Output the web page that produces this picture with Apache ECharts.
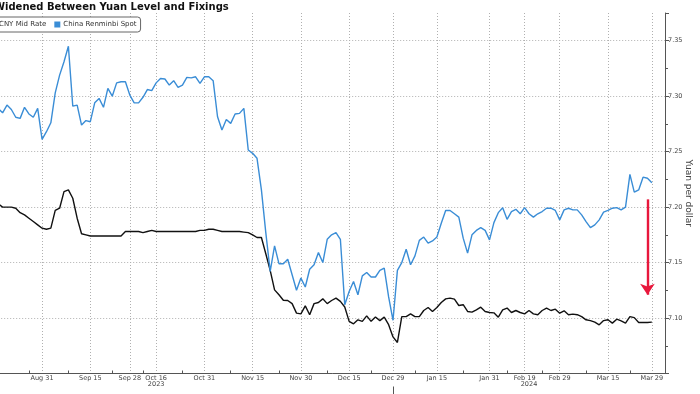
<!DOCTYPE html>
<html>
<head>
<meta charset="utf-8">
<script src="https://cdn.jsdelivr.net/npm/echarts@6/dist/echarts.min.js"></script>
<style>
html,body{margin:0;padding:0;background:#fff;}
#chart{width:700px;height:394px;}
</style>
</head>
<body>
<div id="chart"></div>
<script>
// Trading days (China onshore) per month; April days are empty padding at the right edge
const tradingDays = [
  ['2023-08', [17,18,21,22,23,24,25,28,29,30,31]],
  ['2023-09', [1,4,5,6,7,8,11,12,13,14,15,18,19,20,21,22,25,26,27,28]],
  ['2023-10', [9,10,11,12,13,16,17,18,19,20,23,24,25,26,27,30,31]],
  ['2023-11', [1,2,3,6,7,8,9,10,13,14,15,16,17,20,21,22,23,24,27,28,29,30]],
  ['2023-12', [1,4,5,6,7,8,11,12,13,14,15,18,19,20,21,22,25,26,27,28,29]],
  ['2024-01', [2,3,4,5,8,9,10,11,12,15,16,17,18,19,22,23,24,25,26,29,30,31]],
  ['2024-02', [1,2,5,6,7,8,9,19,20,21,22,23,26,27,28,29]],
  ['2024-03', [1,4,5,6,7,8,11,12,13,14,15,18,19,20,21,22,25,26,27,28,29]],
  ['2024-04', [1,2,3]]
];
const dates = [];
tradingDays.forEach(([m, days]) => days.forEach(d => dates.push(m + '-' + String(d).padStart(2, '0'))));

const labelDates = ['2023-08-31','2023-09-15','2023-09-28','2023-10-16','2023-10-31','2023-11-15','2023-11-30',
  '2023-12-15','2023-12-29','2024-01-15','2024-01-31','2024-02-19','2024-02-29','2024-03-15','2024-03-29'];
const yearLabels = [['2023-10-16', '2023'], ['2024-02-20', '2024']];
const yearSeparator = '2023-12-29';
const yTicks = [7.10, 7.15, 7.20, 7.25, 7.30, 7.35];

// CNY Mid Rate (fixing)
const midRate = [
  7.203,7.200,7.200,7.200,7.199,7.195,7.193,7.190,7.187,7.184,
  7.181,7.180,7.181,7.197,7.199,7.214,7.2155,7.208,7.190,7.176,
  7.175,7.174,7.174,7.174,7.174,7.174,7.174,7.174,7.174,7.178,
  7.178,7.178,7.178,7.177,7.178,7.179,7.178,7.178,7.178,7.178,
  7.178,7.178,7.178,7.178,7.178,7.178,7.179,7.179,7.180,7.180,
  7.179,7.178,7.178,7.178,7.178,7.178,7.1775,7.177,7.175,7.1726,
  7.1726,7.158,7.143,7.1254,7.121,7.116,7.1158,7.113,7.1044,7.1038,
  7.111,7.103,7.113,7.114,7.1173,7.113,7.1158,7.118,7.115,7.110,
  7.097,7.0948,7.0984,7.097,7.102,7.097,7.101,7.0977,7.1008,7.094,
  7.083,7.078,7.1013,7.1013,7.1038,7.1013,7.1013,7.1068,7.1095,7.1059,
  7.1095,7.114,7.1173,7.118,7.117,7.1113,7.112,7.1059,7.1053,7.1074,
  7.1098,7.1059,7.105,7.1047,7.1008,7.1074,7.109,7.105,7.1068,7.105,
  7.1038,7.1068,7.1038,7.103,7.1068,7.109,7.1068,7.108,7.1044,7.1065,
  7.103,7.1035,7.103,7.1013,7.0984,7.0977,7.0963,7.0939,7.0977,7.0984,
  7.0954,7.099,7.0975,7.0954,7.1013,7.1004,7.096,7.096,7.096,7.0963,
  null,null,null
];

// China Renminbi Spot
const spot = [
  7.289,7.285,7.292,7.288,7.281,7.280,7.290,7.284,7.281,7.289,
  7.261,7.268,7.276,7.303,7.319,7.331,7.345,7.291,7.292,7.274,
  7.278,7.277,7.294,7.298,7.290,7.307,7.300,7.312,7.313,7.313,
  7.301,7.294,7.294,7.299,7.306,7.305,7.312,7.316,7.3155,7.310,
  7.314,7.308,7.310,7.317,7.3165,7.3175,7.3115,7.3175,7.3175,7.314,
  7.2815,7.2695,7.279,7.2755,7.284,7.2845,7.289,7.2515,7.2485,7.244,
  7.2155,7.177,7.142,7.165,7.149,7.149,7.153,7.139,7.125,7.136,
  7.128,7.144,7.148,7.159,7.150,7.171,7.175,7.177,7.171,7.112,
  7.124,7.133,7.121,7.138,7.141,7.137,7.137,7.143,7.145,7.119,
  7.098,7.143,7.150,7.162,7.148,7.156,7.170,7.173,7.1675,7.1695,
  7.173,7.1855,7.197,7.197,7.194,7.191,7.172,7.1585,7.175,7.179,
  7.1815,7.179,7.1705,7.186,7.195,7.1995,7.189,7.196,7.198,7.194,
  7.1995,7.194,7.191,7.194,7.196,7.199,7.199,7.197,7.1885,7.1975,
  7.199,7.1975,7.1975,7.193,7.187,7.1815,7.184,7.1885,7.1955,7.197,
  7.199,7.1995,7.1975,7.200,7.2295,7.2135,7.2155,7.227,7.226,7.222,
  null,null,null
];

// Red arrow annotation (date, from value, to value)
const arrowDate = '2024-03-28';
const arrowFrom = 7.207;
const arrowTo = 7.121;

const MON = ['Jan','Feb','Mar','Apr','May','Jun','Jul','Aug','Sep','Oct','Nov','Dec'];
const fmtDate = s => MON[parseInt(s.slice(5,7),10)-1] + ' ' + parseInt(s.slice(8,10),10);

const labelIdx = new Set(labelDates.map(d => dates.indexOf(d)));
const labelArr = labelDates.map(d => dates.indexOf(d));
const tickIdx = new Set();
for (let k = 0; k < labelArr.length; k++) {
  const prev = k === 0 ? labelArr[0] - (labelArr[1] - labelArr[0]) * 0.6 : labelArr[k-1];
  tickIdx.add(Math.round((prev + labelArr[k]) / 2));
}
const yearMap = {};
yearLabels.forEach(([d, y]) => { yearMap[dates.indexOf(d)] = y; });
const sepIdx = dates.indexOf(yearSeparator);

const FONT = 'DejaVu Sans';
const AX = '#555';
const GRID = '#b0b0b0';

const chart = echarts.init(document.getElementById('chart'), null, {renderer: 'canvas'});
chart.setOption({
  animation: false,
  backgroundColor: '#fff',
  title: {
    text: 'Widened Between Yuan Level and Fixings',
    left: -6, top: 2, padding: 0,
    textStyle: {fontFamily: FONT, fontWeight: 'bold', fontSize: 10, color: '#111'}
  },
  legend: {
    left: -14, top: 17,
    padding: [4, 4],
    itemWidth: 6, itemHeight: 6, itemGap: 8,
    icon: 'rect',
    borderColor: '#666', borderWidth: 1, borderRadius: 3,
    backgroundColor: '#fff',
    textStyle: {fontFamily: FONT, fontSize: 7, color: '#333', padding: [0,0,0,-2]},
    data: ['CNY Mid Rate', 'China Renminbi Spot']
  },
  grid: {left: -1.8, right: 35, top: 13, bottom: 20.5, containLabel: false, outerBoundsMode: 'none'},
  xAxis: [
    {
      type: 'category', data: dates, boundaryGap: false,
      axisLine: {lineStyle: {color: AX, width: 1}},
      axisTick: {show: true, inside: true, length: 3, interval: (i) => tickIdx.has(i), lineStyle: {color: AX}},
      axisLabel: {interval: (i) => labelIdx.has(i), formatter: fmtDate, fontFamily: FONT, fontSize: 6.5, color: '#444', margin: 1},
      splitLine: {show: true, interval: (i) => labelIdx.has(i), lineStyle: {color: GRID, type: [1, 2], width: 1}}
    },
    {
      type: 'category', data: dates, boundaryGap: false, position: 'bottom', offset: 6,
      axisLine: {show: false}, axisTick: {show: false},
      axisLabel: {interval: (i) => yearMap[i] !== undefined, formatter: (v) => yearMap[dates.indexOf(v)] || '', fontFamily: FONT, fontSize: 6.5, color: '#444', margin: 1},
      splitLine: {show: false}
    },
    {
      type: 'category', data: dates, boundaryGap: false, position: 'bottom', offset: 13,
      axisLine: {show: false},
      axisTick: {show: true, length: 8, interval: (i) => i === sepIdx, lineStyle: {color: AX}},
      axisLabel: {show: false}, splitLine: {show: false}
    }
  ],
  yAxis: {
    type: 'value', position: 'right', min: 7.05, max: 7.375, interval: 0.05,
    axisLine: {show: true, lineStyle: {color: AX}},
    axisTick: {show: true, length: 4, lineStyle: {color: AX}},
    minorTick: {show: true, splitNumber: 2, length: 3, lineStyle: {color: AX}},
    axisLabel: {
      formatter: v => yTicks.some(t => Math.abs(t - v) < 1e-6) ? v.toFixed(2) : '',
      fontFamily: FONT, fontSize: 6.5, color: '#444', margin: 3
    },
    splitLine: {show: true, showMaxLine: false, showMinLine: false, lineStyle: {color: GRID, type: [1, 2], width: 1}},
    name: 'Yuan per dollar', nameLocation: 'middle', nameRotate: -90, nameGap: 18.5, nameMoveOverlap: false,
    nameTextStyle: {fontFamily: FONT, fontSize: 9, color: '#444'}
  },
  series: [
    {
      name: 'CNY Mid Rate', type: 'line', data: midRate, symbol: 'none', connectNulls: false,
      lineStyle: {color: '#111', width: 1.4}, itemStyle: {color: '#111'}
    },
    {
      name: 'China Renminbi Spot', type: 'line', data: spot, symbol: 'none',
      lineStyle: {color: '#3a8dd6', width: 1.4}, itemStyle: {color: '#3a8dd6'},
      markLine: {
        silent: true, symbol: ['none', 'arrow'], symbolSize: 11,
        label: {show: false},
        lineStyle: {color: '#e8173c', width: 2.4, type: 'solid'},
        itemStyle: {color: '#e8173c'},
        data: [[{coord: [arrowDate, arrowFrom]}, {coord: [arrowDate, arrowTo]}]]
      }
    }
  ]
});
</script>
</body>
</html>
